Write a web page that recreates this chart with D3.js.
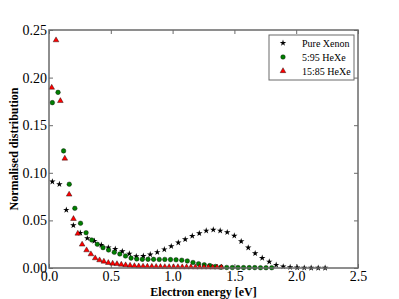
<!DOCTYPE html>
<html>
<head>
<meta charset="utf-8">
<script src="https://cdn.jsdelivr.net/npm/d3@7"></script>
<style>
  html, body { margin: 0; padding: 0; background: #fff; }
  svg { display: block; }
</style>
</head>
<body>
<div id="chart"></div>
<script>
/* ── data ── */
var xenonE = [0.027, 0.084, 0.140, 0.197, 0.253, 0.310, 0.367, 0.423, 0.480, 0.536,
              0.593, 0.650, 0.706, 0.763, 0.819, 0.876, 0.933, 0.989, 1.046, 1.102,
              1.159, 1.216, 1.272, 1.329, 1.385, 1.442, 1.499, 1.555, 1.612, 1.668,
              1.725, 1.782, 1.838, 1.895, 1.951, 2.008, 2.065, 2.121, 2.178, 2.234];
var xenonD = [0.0907, 0.0880, 0.0610, 0.0448, 0.0368, 0.0312, 0.0284, 0.0242, 0.0214, 0.0200,
              0.0175, 0.0150, 0.0122, 0.0126, 0.0142, 0.0166, 0.0195, 0.0228, 0.0266, 0.0301,
              0.0336, 0.0364, 0.0392, 0.0402, 0.0392, 0.0375, 0.0339, 0.0280, 0.0214, 0.0154,
              0.0105, 0.0066, 0.0032, 0.0015, 0.0008, 0.0004, 0.0002, 0.0001, 0.0001, 0.0001];

var he5E = [0.027, 0.073, 0.118, 0.164, 0.209, 0.255, 0.300, 0.346, 0.391, 0.437,
            0.482, 0.528, 0.573, 0.619, 0.664, 0.710, 0.755, 0.801, 0.846, 0.892,
            0.937, 0.983, 1.028, 1.074, 1.119, 1.165, 1.210, 1.256, 1.301, 1.347,
            1.392, 1.438, 1.483, 1.529, 1.574, 1.620, 1.665, 1.711, 1.756, 1.802];
var he5D = [0.1737, 0.1845, 0.1230, 0.0880, 0.0627, 0.0470, 0.0371, 0.0294, 0.0249, 0.0214,
            0.0189, 0.0165, 0.0147, 0.0126, 0.0104, 0.0095, 0.0091, 0.0091, 0.0091, 0.0090,
            0.0090, 0.0088, 0.0086, 0.0082, 0.0074, 0.0058, 0.0045, 0.0034, 0.0025, 0.0016,
            0.0009, 0.0006, 0.0005, 0.0005, 0.0004, 0.0004, 0.0004, 0.0003, 0.0003, 0.0003];

var he15E = [0.022, 0.057, 0.092, 0.128, 0.163, 0.198, 0.233, 0.268, 0.304, 0.339,
             0.374, 0.409, 0.444, 0.480, 0.515, 0.550, 0.585, 0.620, 0.656, 0.691,
             0.726, 0.761, 0.796, 0.832, 0.867, 0.902, 0.937, 0.972, 1.008, 1.043,
             1.078, 1.113, 1.148, 1.184, 1.219, 1.254, 1.289, 1.324, 1.360, 1.395];
var he15D = [0.1890, 0.2388, 0.1750, 0.1145, 0.0767, 0.0511, 0.0357, 0.0242, 0.0182, 0.0140,
             0.0098, 0.0077, 0.0063, 0.0049, 0.0042, 0.0037, 0.0031, 0.0025, 0.0020, 0.0016,
             0.0013, 0.0011, 0.0010, 0.0009, 0.0008, 0.0007, 0.0006, 0.0006, 0.0005, 0.0005,
             0.0004, 0.0004, 0.0004, 0.0003, 0.0003, 0.0003, 0.0003, 0.0002, 0.0002, 0.0002];

var seriesNames = ['Pure Xenon', '5:95 HeXe', '15:85 HeXe'];
var xTicks = [0.0, 0.5, 1.0, 1.5, 2.0, 2.5];
var yTicks = [0.00, 0.05, 0.10, 0.15, 0.20, 0.25];

(function drawChart() {
  var W = 399, H = 299;
  var m = { l: 49, r: 358, t: 30, b: 268 };
  var serif = 'Liberation Serif, Times New Roman, serif';

  var svg = d3.select('#chart').append('svg')
    .attr('width', W).attr('height', H);

  var x = d3.scaleLinear().domain([0, 2.5]).range([m.l, m.r]);
  var y = d3.scaleLinear().domain([0, 0.25]).range([m.b, m.t]);

  /* ── axes, ticks pointing inward on all four sides ── */
  var axisCol = '#6a6a6a';
  function styleAxis(g) {
    g.select('.domain').remove();
    g.attr('font-family', serif);
    g.selectAll('.tick line').attr('stroke', axisCol).attr('stroke-width', 1);
    g.selectAll('.tick text').attr('font-family', serif).attr('font-size', 14).attr('fill', '#000');
  }

  svg.append('g').attr('transform', 'translate(0,' + m.b + ')')
    .call(d3.axisBottom(x).tickValues(xTicks).tickFormat(d3.format('.1f')).tickSizeInner(-4))
    .call(styleAxis)
    .selectAll('.tick text').attr('dy', '0.71em').attr('y', 3);

  svg.append('g').attr('transform', 'translate(' + m.l + ',0)')
    .call(d3.axisLeft(y).tickValues(yTicks).tickFormat(d3.format('.2f')).tickSizeInner(-4))
    .call(styleAxis)
    .selectAll('.tick text').attr('x', -2);

  svg.append('g').attr('transform', 'translate(0,' + m.t + ')')
    .call(d3.axisTop(x).tickValues(xTicks).tickFormat('').tickSizeInner(-4))
    .call(styleAxis);

  svg.append('g').attr('transform', 'translate(' + m.r + ',0)')
    .call(d3.axisRight(y).tickValues(yTicks).tickFormat('').tickSizeInner(-4))
    .call(styleAxis);

  /* ── markers ── */
  var star = d3.symbol().type(d3.symbolStar).size(13);
  var tri = d3.symbol().type(d3.symbolTriangle).size(14);

  function pts(es, ds) {
    return es.map(function (e, i) { return { e: e, d: ds[i] }; });
  }

  var plot = svg.append('g');

  plot.selectAll('path.xe').data(pts(xenonE, xenonD)).enter().append('path')
    .attr('class', 'xe')
    .attr('d', star)
    .attr('transform', function (p) { return 'translate(' + x(p.e) + ',' + y(p.d) + ')'; })
    .attr('fill', '#000');

  plot.selectAll('circle.he5').data(pts(he5E, he5D)).enter().append('circle')
    .attr('class', 'he5')
    .attr('cx', function (p) { return x(p.e); })
    .attr('cy', function (p) { return y(p.d); })
    .attr('r', 2.3)
    .attr('fill', '#007f00').attr('stroke', '#000').attr('stroke-width', 0.4);

  plot.selectAll('path.he15').data(pts(he15E, he15D)).enter().append('path')
    .attr('class', 'he15')
    .attr('d', tri)
    .attr('transform', function (p) { return 'translate(' + x(p.e) + ',' + (y(p.d) - 0.5) + ')'; })
    .attr('fill', '#ff0000').attr('stroke', '#000').attr('stroke-width', 0.4);

  /* ── frame ── */
  svg.append('rect')
    .attr('x', m.l).attr('y', m.t)
    .attr('width', m.r - m.l).attr('height', m.b - m.t)
    .attr('fill', 'none').attr('stroke', axisCol).attr('stroke-width', 1.5);

  /* ── axis labels ── */
  svg.append('text')
    .attr('x', (m.l + m.r) / 2).attr('y', 296)
    .attr('text-anchor', 'middle')
    .attr('font-family', serif).attr('font-size', 12).attr('font-weight', 'bold')
    .text('Electron energy [eV]');

  svg.append('text')
    .attr('transform', 'translate(18,' + (m.t + m.b) / 2 + ') rotate(-90)')
    .attr('text-anchor', 'middle')
    .attr('font-family', serif).attr('font-size', 12).attr('font-weight', 'bold')
    .text('Normalised distribution');

  /* ── legend ── */
  var lg = svg.append('g').attr('transform', 'translate(269,35)');
  lg.append('rect')
    .attr('width', 85).attr('height', 45)
    .attr('fill', '#fff').attr('stroke', axisCol).attr('stroke-width', 1);

  seriesNames.forEach(function (name, i) {
    var cy = 8 + i * 14;
    var mk;
    if (i === 0) {
      mk = lg.append('path').attr('d', star).attr('fill', '#000');
    } else if (i === 1) {
      mk = lg.append('circle').attr('r', 2.3).attr('fill', '#007f00')
        .attr('stroke', '#000').attr('stroke-width', 0.4);
    } else {
      mk = lg.append('path').attr('d', tri).attr('fill', '#ff0000')
        .attr('stroke', '#000').attr('stroke-width', 0.4);
    }
    if (i === 1) mk.attr('cx', 14).attr('cy', cy);
    else mk.attr('transform', 'translate(14,' + cy + ')');

    lg.append('text')
      .attr('x', 33).attr('y', cy + 3.5)
      .attr('font-family', serif).attr('font-size', 10)
      .text(name);
  });
}());
</script>
</body>
</html>
